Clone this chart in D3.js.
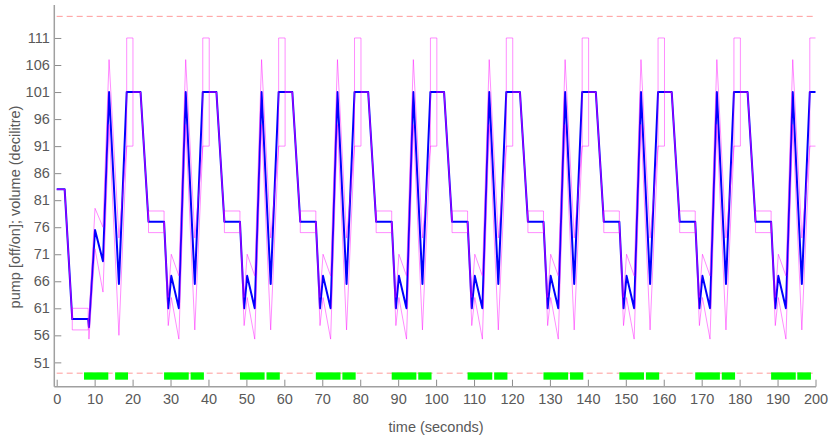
<!DOCTYPE html>
<html>
<head>
<meta charset="utf-8">
<script src="https://cdn.jsdelivr.net/npm/d3@7"></script>
<style>
  body { margin: 0; background: #fff; }
  #corpo { width: 830px; height: 441px; }
  text { font-family: "Liberation Sans", Arial, sans-serif; }
</style>
</head>
<body>
<div id="corpo"></div>
<script>
// time (s), one row per 20 s cycle
var tempo = [
    0, 2.1, 4.1, 4.1, 8.3, 8.3, 8.5, 10.1, 12.2, 13.8, 16.4, 18.45, 18.45, 20.1, 20.1,
    22.1, 24.2, 24.2, 28.3, 28.3, 29.4, 30.2, 32.2, 34.0, 36.4, 38.5, 38.5, 40.2, 40.2,
    42.1, 44.2, 44.2, 48.3, 48.3, 49.4, 50.2, 52.2, 54.0, 56.4, 58.5, 58.5, 60.2, 60.2,
    62.1, 64.2, 64.2, 68.3, 68.3, 69.4, 70.2, 72.2, 74.0, 76.4, 78.5, 78.5, 80.2, 80.2,
    82.1, 84.2, 84.2, 88.3, 88.3, 89.4, 90.2, 92.2, 94.0, 96.4, 98.5, 98.5, 100.2, 100.2,
    102.1, 104.2, 104.2, 108.3, 108.3, 109.4, 110.2, 112.2, 114.0, 116.4, 118.5, 118.5, 120.2, 120.2,
    122.1, 124.2, 124.2, 128.3, 128.3, 129.4, 130.2, 132.2, 134.0, 136.4, 138.5, 138.5, 140.2, 140.2,
    142.1, 144.2, 144.2, 148.3, 148.3, 149.4, 150.2, 152.2, 154.0, 156.4, 158.5, 158.5, 160.2, 160.2,
    162.1, 164.2, 164.2, 168.3, 168.3, 169.4, 170.2, 172.2, 174.0, 176.4, 178.5, 178.5, 180.2, 180.2,
    182.1, 184.2, 184.2, 188.3, 188.3, 189.4, 190.2, 192.2, 194.0, 196.4, 198.5, 198.5, 200
];

// volume (decilitre), mean
var volume = [
    83, 83, 59, 59, 59, 59, 57.5, 75.5, 69.7, 101, 65.5, 101, 101, 101, 101,
    101, 77, 77, 77, 77, 61, 67, 61, 101, 65.5, 101, 101, 101, 101,
    101, 77, 77, 77, 77, 61, 67, 61, 101, 65.5, 101, 101, 101, 101,
    101, 77, 77, 77, 77, 61, 67, 61, 101, 65.5, 101, 101, 101, 101,
    101, 77, 77, 77, 77, 61, 67, 61, 101, 65.5, 101, 101, 101, 101,
    101, 77, 77, 77, 77, 61, 67, 61, 101, 65.5, 101, 101, 101, 101,
    101, 77, 77, 77, 77, 61, 67, 61, 101, 65.5, 101, 101, 101, 101,
    101, 77, 77, 77, 77, 61, 67, 61, 101, 65.5, 101, 101, 101, 101,
    101, 77, 77, 77, 77, 61, 67, 61, 101, 65.5, 101, 101, 101, 101,
    101, 77, 77, 77, 77, 61, 67, 61, 101, 65.5, 101, 101, 101
];

// upper bound
var volumeMax = [
    83, 83, 59, 61, 61, 59, 59, 79.5, 76, 107, 74, 91, 111, 111, 101,
    101, 77, 79, 79, 77, 63, 71, 67, 107, 74, 91, 111, 111, 101,
    101, 77, 79, 79, 77, 63, 71, 67, 107, 74, 91, 111, 111, 101,
    101, 77, 79, 79, 77, 63, 71, 67, 107, 74, 91, 111, 111, 101,
    101, 77, 79, 79, 77, 63, 71, 67, 107, 74, 91, 111, 111, 101,
    101, 77, 79, 79, 77, 63, 71, 67, 107, 74, 91, 111, 111, 101,
    101, 77, 79, 79, 77, 63, 71, 67, 107, 74, 91, 111, 111, 101,
    101, 77, 79, 79, 77, 63, 71, 67, 107, 74, 91, 111, 111, 101,
    101, 77, 79, 79, 77, 63, 71, 67, 107, 74, 91, 111, 111, 101,
    101, 77, 79, 79, 77, 63, 71, 67, 107, 74, 91, 111, 111
];

// lower bound
var volumeMin = [
    83, 83, 59, 57, 57, 59, 55.3, 72, 64, 95, 56, 91, 91, 91, 101,
    101, 77, 75, 75, 77, 57.8, 63, 55.3, 95, 57, 91, 91, 91, 101,
    101, 77, 75, 75, 77, 57.8, 63, 55.3, 95, 57, 91, 91, 91, 101,
    101, 77, 75, 75, 77, 57.8, 63, 55.3, 95, 57, 91, 91, 91, 101,
    101, 77, 75, 75, 77, 57.8, 63, 55.3, 95, 57, 91, 91, 91, 101,
    101, 77, 75, 75, 77, 57.8, 63, 55.3, 95, 57, 91, 91, 91, 101,
    101, 77, 75, 75, 77, 57.8, 63, 55.3, 95, 57, 91, 91, 91, 101,
    101, 77, 75, 75, 77, 57.8, 63, 55.3, 95, 57, 91, 91, 91, 101,
    101, 77, 75, 75, 77, 57.8, 63, 55.3, 95, 57, 91, 91, 91, 101,
    101, 77, 75, 75, 77, 57.8, 63, 55.3, 95, 57, 91, 91, 91
];

// pump on intervals (s)
var bombaInicio = [7.2, 15.4, 28.3, 35.3, 48.3, 55.3, 68.3, 75.3, 88.3, 95.3,
                   108.3, 115.3, 128.3, 135.3, 148.3, 155.3, 168.3, 175.3, 188.3, 195.2];
var bombaFim    = [13.6, 18.8, 34.8, 38.8, 54.8, 58.8, 74.8, 78.8, 94.8, 98.8,
                   114.8, 118.8, 134.8, 138.8, 154.8, 158.8, 174.8, 178.8, 194.8, 198.8];

var limites = [115, 49];
var xTicks = d3.range(0, 201, 10);
var yTicks = [51, 56, 61, 66, 71, 76, 81, 86, 91, 96, 101, 106, 111];

var width = 830, height = 441;
var axisX = 54.3, axisY = 386.7;
var fonte = "14.5px";

var x = d3.scaleLinear().domain([0, 200]).range([56.7, 815.5]);
var y = d3.scaleLinear().domain([46.5, 117.1]).range([axisY, 5]);

var svg = d3.select("#corpo").append("svg")
    .attr("width", width)
    .attr("height", height);

// limit lines
svg.selectAll(".limite")
    .data(limites)
    .enter().append("line")
    .attr("class", "limite")
    .attr("x1", x(0)).attr("x2", x(200))
    .attr("y1", function(d) { return y(d); })
    .attr("y2", function(d) { return y(d); })
    .style("stroke", "#ff9a9a")
    .style("stroke-width", 1)
    .style("stroke-dasharray", "6,4");

// pump on bars
svg.selectAll(".bomba")
    .data(bombaInicio)
    .enter().append("rect")
    .attr("class", "bomba")
    .attr("x", function(d) { return x(d); })
    .attr("width", function(d, i) { return x(bombaFim[i]) - x(d); })
    .attr("y", y(49.15))
    .attr("height", y(47.8) - y(49.15))
    .style("fill", "#00ff00");

var linha = function(serie) {
    return d3.line()
        .x(function(d, i) { return x(tempo[i]); })
        .y(function(d) { return y(d); })(serie);
};

svg.append("path")
    .attr("d", linha(volume))
    .style("fill", "none")
    .style("stroke", "#0000ff")
    .style("stroke-width", 2)
    .style("stroke-linejoin", "round");

[volumeMax, volumeMin].forEach(function(s) {
    svg.append("path")
        .attr("d", linha(s))
        .style("fill", "none")
        .style("stroke", "#ff00ff")
        .style("stroke-opacity", 0.45)
        .style("stroke-width", 1);
});

// axes
var gx = svg.append("g")
    .attr("transform", "translate(0," + axisY + ")")
    .call(d3.axisBottom(x).tickValues(xTicks).tickSizeInner(-7).tickSizeOuter(0).tickPadding(7));
var gy = svg.append("g")
    .attr("transform", "translate(" + axisX + ",0)")
    .call(d3.axisLeft(y).tickValues(yTicks).tickSizeInner(-7).tickSizeOuter(0).tickPadding(4.5));

[gx, gy].forEach(function(g) {
    g.select(".domain").remove();
    g.selectAll(".tick line").style("stroke", "#8c8c8c");
    g.selectAll(".tick text")
        .style("fill", "#595959")
        .style("font-size", fonte)
        .style("font-family", "'Liberation Sans', Arial, sans-serif");
});

svg.append("line")
    .attr("x1", axisX).attr("x2", axisX)
    .attr("y1", 5).attr("y2", axisY)
    .style("stroke", "#a0a0a0").style("stroke-width", 1.5);
svg.append("line")
    .attr("x1", axisX).attr("x2", x(200) + 0.5)
    .attr("y1", axisY).attr("y2", axisY)
    .style("stroke", "#a0a0a0").style("stroke-width", 1.5);

svg.append("text")
    .attr("x", (x(0) + x(200)) / 2)
    .attr("y", 432)
    .attr("text-anchor", "middle")
    .style("font-size", fonte)
    .style("fill", "#595959")
    .text("time (seconds)");

svg.append("text")
    .attr("transform", "translate(20,207) rotate(-90)")
    .attr("text-anchor", "middle")
    .style("font-size", fonte)
    .style("fill", "#595959")
    .text("pump [off/on]; volume (decilitre)");
</script>
</body>
</html>
